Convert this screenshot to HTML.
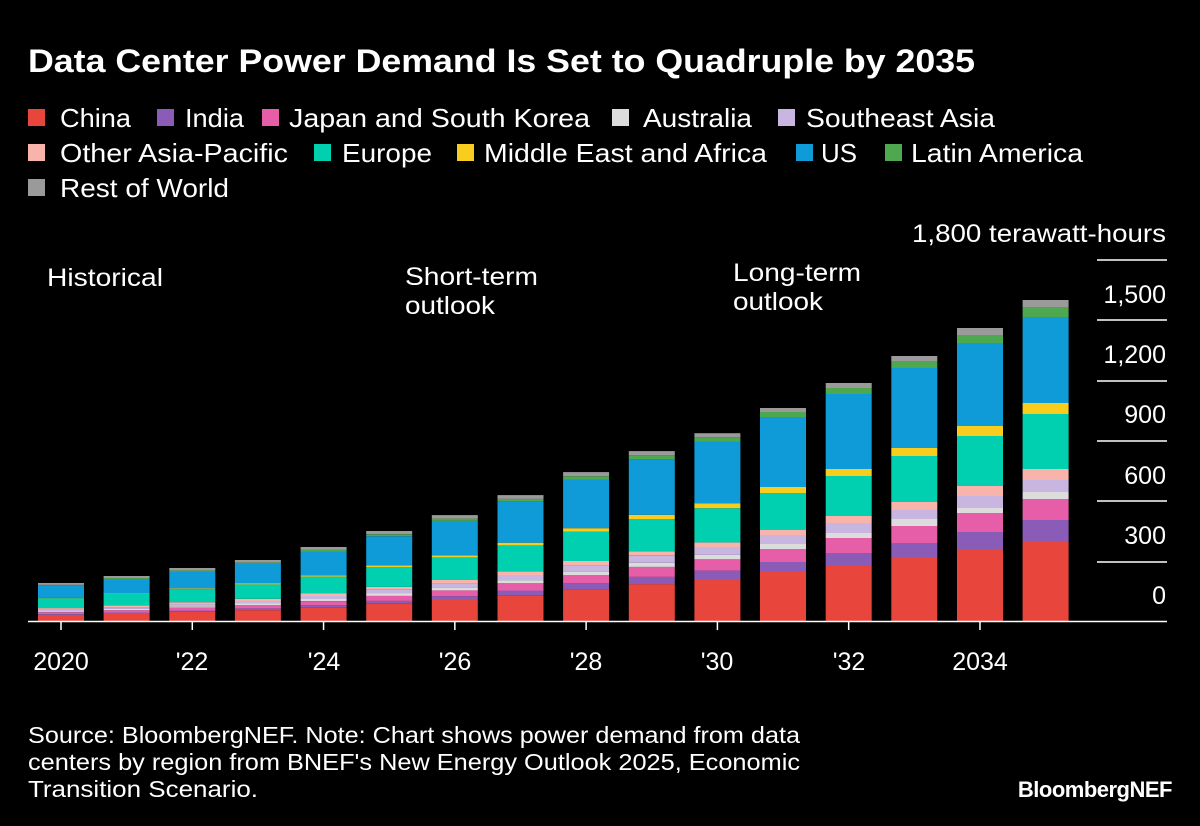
<!DOCTYPE html>
<html><head><meta charset="utf-8"><style>
html,body{margin:0;padding:0;background:#000;}
svg{display:block;font-family:"Liberation Sans",Arial,sans-serif;}
</style></head><body>
<svg id="s" width="1200" height="826" viewBox="0 0 1200 826" xmlns="http://www.w3.org/2000/svg">
<rect width="1200" height="826" fill="#000"/>
<text x="28" y="72" fill="#fff" font-size="32" font-weight="bold" textLength="947" lengthAdjust="spacingAndGlyphs">Data Center Power Demand Is Set to Quadruple by 2035</text>
<g font-size="26" fill="#fff">
<rect x="28" y="109" width="17" height="17" fill="#e8453c"/><text x="60" y="127" textLength="71" lengthAdjust="spacingAndGlyphs">China</text>
<rect x="157" y="109" width="17" height="17" fill="#8a5cb8"/><text x="185" y="127" textLength="59" lengthAdjust="spacingAndGlyphs">India</text>
<rect x="262" y="109" width="17" height="17" fill="#e65ea8"/><text x="289" y="127" textLength="301" lengthAdjust="spacingAndGlyphs">Japan and South Korea</text>
<rect x="612" y="109" width="17" height="17" fill="#dcdcdc"/><text x="643" y="127" textLength="109" lengthAdjust="spacingAndGlyphs">Australia</text>
<rect x="778" y="109" width="17" height="17" fill="#c9b6e0"/><text x="806" y="127" textLength="189" lengthAdjust="spacingAndGlyphs">Southeast Asia</text>
<rect x="28" y="144" width="17" height="17" fill="#f8b3ab"/><text x="60" y="162" textLength="228" lengthAdjust="spacingAndGlyphs">Other Asia-Pacific</text>
<rect x="314" y="144" width="17" height="17" fill="#00d0b0"/><text x="342" y="162" textLength="90" lengthAdjust="spacingAndGlyphs">Europe</text>
<rect x="457" y="144" width="17" height="17" fill="#f9cd1e"/><text x="484" y="162" textLength="283" lengthAdjust="spacingAndGlyphs">Middle East and Africa</text>
<rect x="796" y="144" width="17" height="17" fill="#0f9ad8"/><text x="821" y="162" textLength="36" lengthAdjust="spacingAndGlyphs">US</text>
<rect x="885" y="144" width="17" height="17" fill="#4ea850"/><text x="911" y="162" textLength="172" lengthAdjust="spacingAndGlyphs">Latin America</text>
<rect x="28" y="179" width="17" height="17" fill="#9a9a9a"/><text x="60" y="197" textLength="169" lengthAdjust="spacingAndGlyphs">Rest of World</text>
</g>
<g font-size="25" fill="#fff">
<text x="47" y="286" textLength="116" lengthAdjust="spacingAndGlyphs">Historical</text>
<text x="405" y="285" textLength="133" lengthAdjust="spacingAndGlyphs">Short-term</text><text x="405" y="314" textLength="90" lengthAdjust="spacingAndGlyphs">outlook</text>
<text x="733" y="281" textLength="128" lengthAdjust="spacingAndGlyphs">Long-term</text><text x="733" y="310" textLength="90" lengthAdjust="spacingAndGlyphs">outlook</text>
</g>
<g font-size="25" fill="#fff" text-anchor="end">
<text x="1166" y="242" textLength="254" lengthAdjust="spacingAndGlyphs">1,800 terawatt-hours</text>
<text x="1166" y="303">1,500</text>
<text x="1166" y="363">1,200</text>
<text x="1166" y="423">900</text>
<text x="1166" y="484">600</text>
<text x="1166" y="544">300</text>
<text x="1166" y="604">0</text>
</g>
<g stroke="#fff" stroke-width="1.5">
<line x1="1097" x2="1167" y1="260" y2="260"/>
<line x1="1097" x2="1167" y1="320" y2="320"/>
<line x1="1097" x2="1167" y1="381" y2="381"/>
<line x1="1097" x2="1167" y1="441" y2="441"/>
<line x1="1097" x2="1167" y1="501" y2="501"/>
<line x1="1097" x2="1167" y1="562" y2="562"/>
</g>
<g id="bars"></g>
<line x1="28" x2="1167" y1="621.5" y2="621.5" stroke="#fff" stroke-width="1.5"/>
<g font-size="25" fill="#fff" text-anchor="middle">
<text x="61" y="670">2020</text><text x="192" y="670">'22</text><text x="324" y="670">'24</text>
<text x="455" y="670">'26</text><text x="586" y="670">'28</text><text x="717" y="670">'30</text>
<text x="849" y="670">'32</text><text x="980" y="670">2034</text>
</g>
<g font-size="23" fill="#fff">
<text x="28" y="743" textLength="772" lengthAdjust="spacingAndGlyphs">Source: BloombergNEF. Note: Chart shows power demand from data</text>
<text x="28" y="770" textLength="772" lengthAdjust="spacingAndGlyphs">centers by region from BNEF's New Energy Outlook 2025, Economic</text>
<text x="28" y="797" textLength="230" lengthAdjust="spacingAndGlyphs">Transition Scenario.</text>
</g>
<text x="1172" y="797" fill="#fff" font-size="22" font-weight="bold" text-anchor="end" letter-spacing="-0.5">BloombergNEF</text>
</svg>
<script>
var cols=["#e8453c","#8a5cb8","#e65ea8","#dcdcdc","#c9b6e0","#f8b3ab","#00d0b0","#f9cd1e","#0f9ad8","#4ea850","#9a9a9a"];
var p0=[.16,.02,.05,.03,.04,.04,.26,.01,.32,.02,.05];
var p1=[.23,.047,.061,.023,.042,.023,.174,.028,.329,.023,.019];
var tops=[583,576,568,560,547,531,515,495,472,451,433];
var meas=[
[621,572,562,549,544,535,530,493,487,417,412,408],
[621,566,553,538,533,523,516,476,469,394,388,383],
[621,557,543,526,519,510,502,456,448,368,361,356],
[621,549,532,513,508,496,486,436,426,343,335,328],
[621,542,520,499,492,480,469,414,403,317,307,300]];
var g=document.getElementById('bars'),h='';
for(var i=0;i<16;i++){
 var x=61+i*65.64-23,b;
 if(i<11){var H=621-tops[i],t=i/11;b=[621];var y=621;
  for(var k=0;k<11;k++){y-=H*(p0[k]+(p1[k]-p0[k])*t);b.push(y);}}
 else b=meas[i-11];
 for(var k=0;k<11;k++){h+='<rect x="'+x.toFixed(1)+'" y="'+b[k+1].toFixed(1)+'" width="46" height="'+(b[k]-b[k+1]).toFixed(1)+'" fill="'+cols[k]+'"/>';}
 if(i%2==0)h+='<line x1="'+(x+23)+'" x2="'+(x+23)+'" y1="621" y2="630" stroke="#fff" stroke-width="1.5"/>';
}
g.innerHTML=h;
</script>
</body></html>
